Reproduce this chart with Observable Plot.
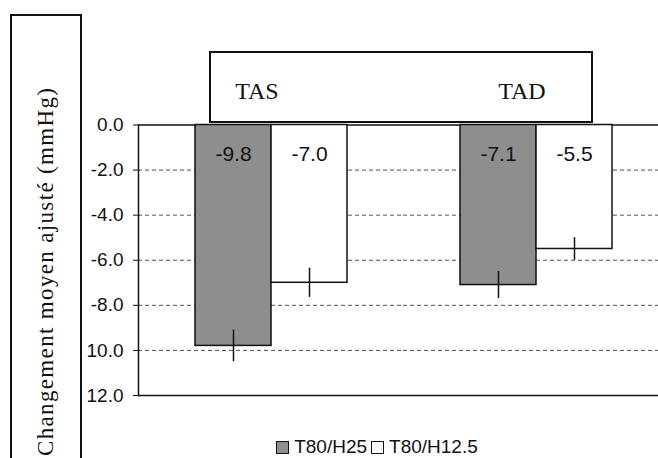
<!DOCTYPE html>
<html>
<head>
<meta charset="utf-8">
<script src="https://cdn.jsdelivr.net/npm/d3@7"></script>
<script src="https://cdn.jsdelivr.net/npm/@observablehq/plot@0.6"></script>
<style>
  html, body { margin: 0; padding: 0; background: #fff; overflow: hidden; }
  #wrap { position: relative; width: 658px; height: 458px; overflow: hidden; background: #fff; }
  #inner { position: absolute; left: 0; top: 0; width: 668px; }
  #deco { position: absolute; left: 0; top: 0; pointer-events: none; }
  #legend { position: absolute; left: 0; width: 750px; top: 436px; display: flex; justify-content: center;
            align-items: center; font-family: "Liberation Sans", Arial, sans-serif; font-size: 19px; color: #111; }
  .sw { display: inline-block; width: 11px; height: 11px; border: 1.5px solid #111; margin-right: 5px; margin-left: 4px; }
</style>
</head>
<body>
<div id="wrap">
  <div id="inner"></div>
  <svg id="deco" width="658" height="458"></svg>
  <div id="legend"></div>
</div>
<script>
// ---- data ----
const groups = ["TAS", "TAD"];
const series = ["T80/H25", "T80/H12.5"];
const seriesColors = ["#8e8e8e", "#ffffff"];
const tasValues = [-9.8, -7.0];
const tadValues = [-7.1, -5.5];
const tasErrors = [0.7, 0.65];
const tadErrors = [0.6, 0.5];
const yTicks = [0, -2, -4, -6, -8, -10, -12];
const yTickLabels = ["0.0", "-2.0", "-4.0", "-6.0", "-8.0", "10.0", "12.0"];
const yTitle = "Changement moyen ajusté (mmHg)";

const valuesByGroup = {TAS: tasValues, TAD: tadValues};
const errorsByGroup = {TAS: tasErrors, TAD: tadErrors};
const rows = [];
for (const g of groups) {
  series.forEach((s, i) => {
    const v = valuesByGroup[g][i], e = errorsByGroup[g][i];
    rows.push({group: g, series: s, value: v, lo: v - e, hi: v + e});
  });
}
const tickLabelOf = new Map(yTicks.map((t, i) => [t, yTickLabels[i]]));

const plot = Plot.plot({
  width: 668,
  height: 420,
  marginTop: 124.5,
  marginBottom: 25,
  marginLeft: 138,
  marginRight: 0,
  style: {fontFamily: "Liberation Sans, Arial, sans-serif", fontSize: "19px", color: "#111", background: "transparent", overflow: "visible", maxWidth: "none"},
  fx: {domain: groups, padding: 0, axis: null},
  x: {domain: series, paddingInner: 0, paddingOuter: 0.74, axis: null},
  y: {domain: [-12, 0], axis: null},
  color: {domain: series, range: seriesColors},
  marks: [
    Plot.gridY([-2, -4, -6, -8, -10], {stroke: "#333", strokeOpacity: 0.85, strokeDasharray: "4,3", strokeWidth: 1}),
    Plot.ruleY([0, -12], {stroke: "#111", strokeWidth: 1.5}),
    Plot.frame({anchor: "left", facetAnchor: "left", stroke: "#111", strokeWidth: 1.5}),
    Plot.axisY(yTicks, {anchor: "left", tickSize: 5, tickPadding: 10, tickFormat: d => tickLabelOf.get(d),
      fontSize: 19, fontFamily: "Liberation Sans, Arial, sans-serif", label: null, stroke: "#111"}),
    Plot.barY(rows, {fx: "group", x: "series", y1: 0, y2: "value", fill: "series", stroke: "#111", strokeWidth: 1.5}),
    Plot.ruleX(rows, {fx: "group", x: "series", y1: "lo", y2: "hi", stroke: "#111", strokeWidth: 1.5}),
    Plot.text(rows, {fx: "group", x: "series", text: d => d.value.toFixed(1), frameAnchor: "top", dy: 21,
      fontSize: 21, fontFamily: "Liberation Sans, Arial, sans-serif", fill: "#111"}),
    Plot.text(groups, {fx: d => d, text: d => d, frameAnchor: "top", dy: -43, dx: -14,
      fontSize: 24, fontFamily: "Liberation Serif, Times New Roman, serif", fill: "#111"})
  ]
});
document.getElementById("inner").appendChild(plot);

// ---- decorations: boxes and rotated y title ----
const deco = d3.select("#deco");
deco.append("rect").attr("x", 11).attr("y", 15).attr("width", 70).attr("height", 470)
  .attr("fill", "none").attr("stroke", "#111").attr("stroke-width", 2);
deco.append("rect").attr("x", 210).attr("y", 52).attr("width", 382).attr("height", 70)
  .attr("fill", "none").attr("stroke", "#111").attr("stroke-width", 2);
deco.append("text")
  .attr("transform", "translate(53,88) rotate(-90)")
  .attr("text-anchor", "end")
  .attr("font-family", "Liberation Serif, Times New Roman, serif")
  .attr("font-size", 23)
  .attr("fill", "#111")
  .attr("textLength", 368)
  .attr("lengthAdjust", "spacing")
  .text(yTitle);

// ---- legend ----
const legend = d3.select("#legend");
series.forEach((s, i) => {
  legend.append("span").attr("class", "sw").style("background", seriesColors[i]);
  legend.append("span").text(s);
});
</script>
</body>
</html>
